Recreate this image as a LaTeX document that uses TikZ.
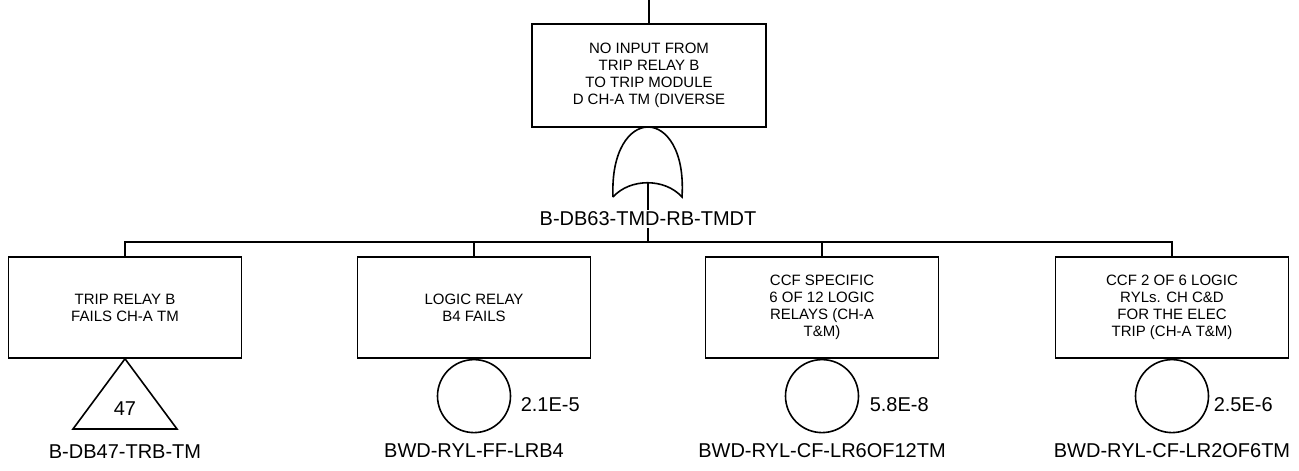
\documentclass[tikz,border=0pt]{standalone}
\usepackage{fontspec}
\setmainfont{Liberation Sans}
\begin{document}
\begin{tikzpicture}[x=1pt,y=-1pt,line width=1.6pt,
  ebox/.style={draw,minimum width=233pt,minimum height=101pt,inner sep=0pt,align=center,
    font=\fontsize{15}{17}\selectfont},
  lbl/.style={inner sep=1pt,font=\fontsize{20}{22}\selectfont},
  prob/.style={anchor=west,inner sep=0pt,font=\fontsize{20}{22}\selectfont}]
\useasboundingbox (0,0) rectangle (1299,471);
% top event
\coordinate (in) at (649,0);
\node[ebox,minimum width=234pt,minimum height=103pt] (top) at (649,75.5)
  {NO INPUT FROM\\TRIP RELAY B\\TO TRIP MODULE\\D CH-A TM (DIVERSE};
\draw (in) -- (top.north);
% OR gate
\coordinate (gtop) at (648,127);
\coordinate (gout) at (648,182.5);
\draw (613,197) .. controls (611,150) and (630,127) .. (gtop)
  .. controls (666,127) and (685,150) .. (682,197)
  .. controls (665,178) and (630,178) .. (613,197);
\node[lbl] (glbl) at (648,219) {B-DB63-TMD-RB-TMDT};
\draw (gout) -- (glbl.north);
\coordinate (bus) at (648,242);
\draw (glbl.south) -- (bus);
% children
\node[ebox] (b1) at (125,307.5) {TRIP RELAY B\\FAILS CH-A TM};
\node[ebox] (b2) at (474,307.5) {LOGIC RELAY\\B4 FAILS};
\node[ebox] (b3) at (822,307.5) {CCF SPECIFIC\\6 OF 12 LOGIC\\RELAYS (CH-A\\T\&M)};
\node[ebox] (b4) at (1172,307.5) {CCF 2 OF 6 LOGIC\\RYLs. CH C\&D\\FOR THE ELEC\\TRIP (CH-A T\&M)};
\draw (b1.north) |- (bus) -| (b4.north);
\draw (b2.north) -- (b2.north |- bus);
\draw (b3.north) -- (b3.north |- bus);
% transfer triangle
\draw (b1.south) -- (177,429) -- (73,429) -- cycle;
\node[lbl] (t47) at (125,409) {47};
\node[lbl] (l1) at (125,452) {B-DB47-TRB-TM};
% basic events
\node[draw,circle,minimum size=73pt,inner sep=0pt,anchor=north] (c2) at (b2.south) {};
\node[draw,circle,minimum size=73pt,inner sep=0pt,anchor=north] (c3) at (b3.south) {};
\node[draw,circle,minimum size=73pt,inner sep=0pt,anchor=north] (c4) at (b4.south) {};
\node[prob] (p2) at (520,405) {2.1E-5};
\node[prob] (p3) at (869,405) {5.8E-8};
\node[prob] (p4) at (1213,405) {2.5E-6};
\node[lbl] (l2) at (474,451) {BWD-RYL-FF-LRB4};
\node[lbl] (l3) at (822,451) {BWD-RYL-CF-LR6OF12TM};
\node[lbl] (l4) at (1172,451) {BWD-RYL-CF-LR2OF6TM};
\end{tikzpicture}
\end{document}
